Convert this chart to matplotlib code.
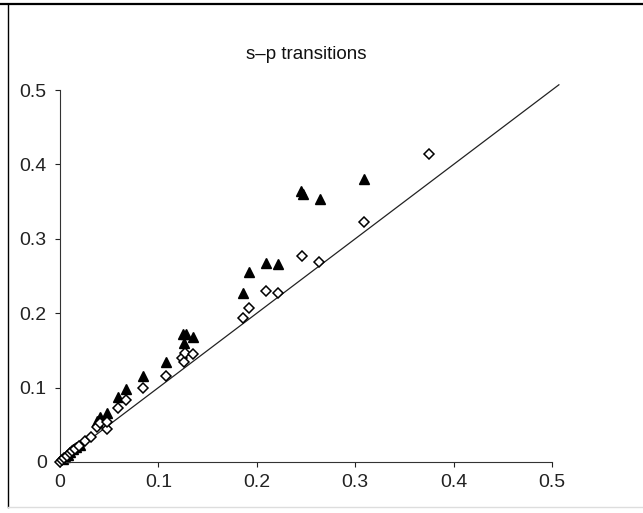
import matplotlib
matplotlib.use("Agg")
import matplotlib.pyplot as plt
from matplotlib.lines import Line2D

plt.rcParams['font.family'] = ['Liberation Sans', 'DejaVu Sans']

title = "s\u2013p transitions"
ticks = [0, 0.1, 0.2, 0.3, 0.4, 0.5]
tick_labels = ["0", "0.1", "0.2", "0.3", "0.4", "0.5"]

# open diamonds
diam_x = [0.0, 0.002, 0.004, 0.007, 0.010, 0.012, 0.015, 0.019, 0.025, 0.031, 0.0373, 0.0407, 0.0474, 0.048,
          0.0593, 0.0667, 0.0847, 0.1077, 0.1237, 0.126, 0.127, 0.1355, 0.1856, 0.1924, 0.2093, 0.2219,
          0.2456, 0.2636, 0.309, 0.375]
diam_y = [0.0, 0.003, 0.005, 0.008, 0.012, 0.015, 0.018, 0.022, 0.028, 0.034, 0.0475, 0.052, 0.044, 0.054,
          0.072, 0.0833, 0.099, 0.116, 0.1394, 0.134, 0.147, 0.1456, 0.193, 0.207, 0.2294, 0.2267,
          0.2773, 0.2688, 0.323, 0.414]

# filled triangles
tri_x = [0.003, 0.005, 0.008, 0.0102, 0.0135, 0.0165, 0.0203, 0.0373, 0.0407, 0.048, 0.0593, 0.0667,
         0.0847, 0.1077, 0.1253, 0.1277, 0.1355, 0.126, 0.1856, 0.1924, 0.2093, 0.2219, 0.2449, 0.2469,
         0.2642, 0.309]
tri_y = [0.004, 0.007, 0.010, 0.0138, 0.0171, 0.020, 0.0228, 0.0555, 0.061, 0.0654, 0.087, 0.0977,
         0.1156, 0.1348, 0.1716, 0.1716, 0.1684, 0.1603, 0.2276, 0.255, 0.268, 0.266, 0.364, 0.360,
         0.354, 0.380]

line_x = [0, 0.507]
line_y = [0, 0.507]

fig = plt.figure(figsize=(6.43, 5.13), dpi=100)
ax = fig.add_axes([60/643, 51/513, 492/643, 372/513])

ax.plot(line_x, line_y, color='#222222', lw=0.9, clip_on=False, zorder=1)
ax.plot(diam_x, diam_y, linestyle='none', marker='D', ms=5, mfc='white', mec='black', mew=1.1,
        clip_on=False, zorder=3)
ax.plot(tri_x, tri_y, linestyle='none', marker='^', ms=7, mfc='black', mec='black',
        clip_on=False, zorder=2)

ax.set_xlim(0, 0.5)
ax.set_ylim(0, 0.5)
ax.set_xticks(ticks)
ax.set_xticklabels(tick_labels)
ax.set_yticks(ticks)
ax.set_yticklabels(tick_labels)
ax.spines['top'].set_visible(False)
ax.spines['right'].set_visible(False)
for s in ['left', 'bottom']:
    ax.spines[s].set_linewidth(0.8)
    ax.spines[s].set_color('#333333')
ax.tick_params(direction='out', length=3.5, width=0.8, labelsize=14, colors='#222222')
ax.tick_params(axis='x', pad=5)
ax.tick_params(axis='y', pad=6)

fig.text(306/643, 1 - 55/513, title, ha='center', va='center', fontsize=13.5, color='#111111')

# figure frame
fig.add_artist(Line2D([0, 1], [1 - 4/513, 1 - 4/513], color='black', lw=1.6, transform=fig.transFigure))
fig.add_artist(Line2D([8/643, 8/643], [6/513, 1 - 4/513], color='black', lw=1.0, transform=fig.transFigure))
fig.add_artist(Line2D([8/643, 1], [6/513, 6/513], color='#dddddd', lw=1.0, transform=fig.transFigure))

fig.savefig("out.png", dpi=100)
